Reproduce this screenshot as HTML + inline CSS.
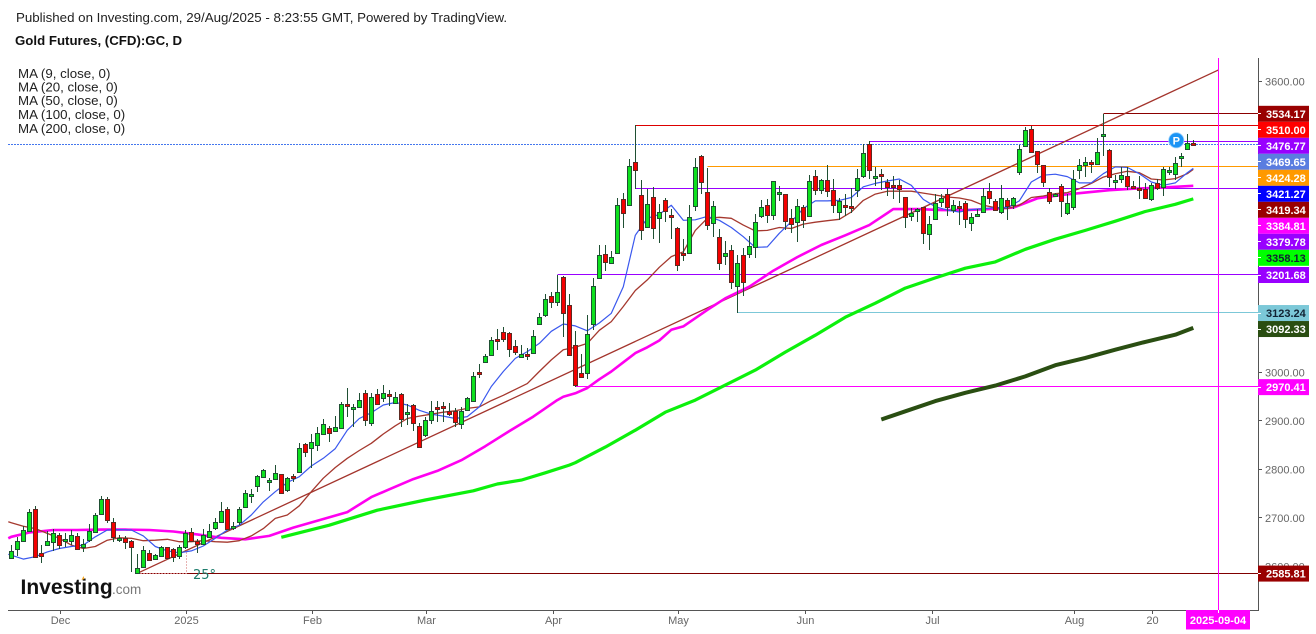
<!DOCTYPE html>
<html lang="en">
<head>
<meta charset="utf-8">
<title>Gold Futures (CFD):GC, D</title>
<style>
html,body{margin:0;padding:0;background:#fff;width:1316px;height:634px;overflow:hidden}
svg{display:block;font-family:"Liberation Sans",Arial,sans-serif}
</style>
</head>
<body>
<svg id="chart" width="1316" height="634" viewBox="0 0 1316 634">
  <rect width="1316" height="634" fill="#fff"/>
  <text x="16" y="22" font-size="13.32" fill="#222">Published on Investing.com, 29/Aug/2025 - 8:23:55 GMT, Powered by TradingView.</text>
  <text x="15" y="45" font-size="13.25" font-weight="bold" fill="#111">Gold Futures, (CFD):GC, D</text>
  <g font-size="13.3" fill="#222">
    <text x="18" y="78">MA (9, close, 0)</text>
    <text x="18" y="91.5">MA (20, close, 0)</text>
    <text x="18" y="105">MA (50, close, 0)</text>
    <text x="18" y="119">MA (100, close, 0)</text>
    <text x="18" y="133">MA (200, close, 0)</text>
  </g>
  <g id="levels"></g>
  <g id="drawings"></g>
  <g id="averages"></g>
  <g id="candles"></g>
  <g>
    <circle cx="1176.3" cy="140.3" r="7.6" fill="#1b94f5" stroke="#9fd3fb" stroke-width="0.8"/>
    <text x="1176.3" y="144.4" font-size="11" font-weight="bold" fill="#fff" text-anchor="middle">P</text>
  </g>
  <g>
    <text x="20.5" y="594" font-size="21" font-weight="bold" fill="#111">Investing</text>
    <text x="112" y="594" font-size="13.5" fill="#777">.com</text>
    <path d="M81.5 580 l2 -4 l1 3 z" fill="#f5a623"/>
  </g>
  <g id="axes"></g>
</svg>
<script>
// ---------- chart data ----------
const opens = [2617,2635,2653,2672,2718,2627,2645,2650,2664,2652,2652,2662,2641,2654,2670,2709,2738,2691,2654,2658,2652,2586,2598,2627,2616,2622,2639,2635,2621,2641,2670,2652,2647,2661,2680,2692,2718,2680,2692,2722,2746,2765,2784,2777,2780,2790,2757,2786,2795,2852,2845,2850,2874,2885,2880,2885,2936,2926,2928,2957,2895,2955,2948,2955,2938,2955,2916,2932,2889,2872,2903,2929,2930,2920,2920,2893,2922,2942,3002,3021,3037,3069,3084,3081,3054,3031,3039,3041,3099,3118,3158,3146,3197,3139,3056,2999,2999,3100,3194,3245,3225,3247,3357,3346,3435,3367,3301,3361,3318,3355,3324,3299,3247,3247,3344,3447,3373,3309,3280,3241,3253,3179,3243,3245,3259,3322,3346,3324,3369,3369,3318,3311,3342,3322,3406,3377,3398,3377,3332,3346,3344,3377,3406,3472,3404,3409,3392,3387,3386,3361,3322,3335,3341,3285,3316,3351,3369,3336,3344,3349,3309,3322,3332,3375,3353,3330,3355,3346,3414,3468,3503,3456,3429,3373,3365,3384,3328,3342,3417,3429,3435,3431,3487,3458,3394,3400,3406,3384,3381,3378,3357,3391,3383,3415,3410,3443,3460,3474];
const highs = [2644,2661,2683,2718,2724,2644,2672,2678,2668,2668,2675,2668,2656,2687,2711,2745,2744,2700,2665,2663,2654,2625,2642,2634,2625,2642,2641,2637,2644,2675,2680,2656,2678,2687,2699,2733,2723,2692,2723,2757,2759,2788,2801,2782,2809,2790,2784,2790,2854,2854,2873,2887,2905,2889,2910,2939,2969,2936,2957,2964,2958,2965,2974,2964,2960,2957,2936,2935,2896,2909,2941,2941,2940,2938,2926,2928,2949,3002,3017,3039,3074,3089,3093,3084,3066,3057,3050,3087,3123,3162,3167,3202,3198,3162,3086,3038,3119,3195,3263,3263,3250,3359,3371,3441,3510,3397,3378,3383,3348,3359,3338,3300,3276,3346,3443,3448,3422,3353,3295,3271,3263,3243,3256,3281,3327,3355,3357,3395,3384,3369,3337,3357,3345,3408,3417,3399,3428,3399,3360,3369,3381,3419,3471,3477,3424,3419,3400,3405,3397,3362,3340,3340,3342,3322,3369,3369,3379,3355,3354,3354,3328,3338,3381,3390,3358,3386,3359,3361,3469,3507,3509,3457,3429,3381,3371,3388,3369,3417,3441,3445,3439,3483,3534,3460,3407,3423,3423,3395,3405,3390,3390,3400,3423,3423,3445,3453,3491,3479];
const lows = [2615,2621,2653,2671,2617,2606,2645,2632,2635,2641,2644,2634,2630,2651,2668,2706,2690,2651,2651,2636,2588,2586,2596,2612,2613,2620,2615,2610,2615,2636,2651,2627,2644,2660,2675,2689,2675,2675,2685,2720,2730,2754,2782,2756,2778,2749,2754,2775,2795,2826,2804,2839,2872,2857,2878,2883,2909,2888,2926,2890,2890,2935,2940,2931,2936,2887,2892,2880,2846,2867,2894,2898,2898,2910,2887,2884,2920,2941,2989,3019,3036,3046,3063,3032,3037,3029,3026,3039,3098,3115,3132,3137,3074,3036,2970,2988,2986,3088,3194,3209,3223,3247,3299,3345,3379,3274,3299,3276,3267,3311,3276,3210,3230,3245,3333,3369,3293,3280,3212,3221,3172,3123,3158,3237,3236,3318,3309,3314,3354,3293,3288,3269,3297,3320,3366,3368,3362,3329,3315,3322,3328,3361,3402,3400,3384,3377,3364,3357,3350,3299,3313,3311,3266,3252,3314,3342,3322,3328,3304,3297,3292,3320,3328,3348,3335,3326,3314,3338,3407,3467,3452,3412,3383,3347,3362,3321,3324,3335,3400,3403,3412,3430,3447,3383,3379,3390,3376,3379,3357,3357,3354,3377,3364,3407,3397,3424,3459,3467];
const closes = [2632,2652,2675,2712,2619,2621,2652,2668,2645,2656,2664,2635,2647,2672,2705,2740,2695,2661,2658,2650,2641,2596,2633,2614,2623,2639,2618,2619,2641,2668,2652,2647,2665,2672,2691,2715,2678,2683,2718,2751,2749,2786,2798,2778,2792,2752,2782,2782,2845,2835,2857,2876,2893,2876,2887,2934,2932,2928,2944,2901,2949,2936,2957,2952,2949,2905,2918,2895,2847,2901,2920,2925,2926,2914,2898,2920,2947,2992,2999,3033,3068,3067,3070,3048,3043,3039,3037,3076,3114,3151,3146,3166,3122,3036,2974,2990,3079,3178,3243,3227,3238,3346,3328,3425,3418,3293,3348,3298,3331,3334,3320,3222,3243,3321,3423,3392,3305,3344,3226,3247,3187,3226,3187,3261,3311,3342,3324,3394,3373,3313,3307,3344,3315,3395,3377,3398,3375,3346,3354,3342,3342,3402,3452,3417,3406,3407,3383,3385,3379,3320,3328,3337,3287,3307,3349,3359,3342,3346,3342,3316,3320,3326,3363,3359,3336,3359,3344,3359,3462,3501,3454,3431,3392,3353,3368,3353,3349,3400,3427,3435,3433,3454,3491,3404,3398,3408,3384,3380,3377,3359,3387,3381,3419,3417,3433,3447,3474,3471];

const ma9Days = [0.5,1,3,5,7,9,11,13,15,17,19,21,23,25,27,29,31,33,35,37,39,41,43,45,47,49,51,53,55,57,59,61,63,65,67,69,71,73,75,77,79,81,83,85,87,89,91,93,95,97,99,101,103,105,107,109,111,113,115,117,119,121,123,125,127,129,131,133,135,137,139,141,143,145,147,149,151,153,155,157,159,161,163,165,167,169,171,173,175,177,179,181,183,185,187,189,191,193,195,197,198];
const ma9Values = [2625,2623,2615,2620,2630,2637,2641,2644,2661,2675,2676,2675,2663,2641,2632,2628,2632,2642,2658,2675,2685,2706,2733,2754,2773,2785,2807,2823,2843,2881,2905,2917,2933,2938,2933,2922,2914,2910,2905,2909,2929,2971,3002,3029,3043,3060,3085,3100,3096,3086,3102,3122,3177,3283,3318,3326,3345,3314,3315,3322,3314,3299,3280,3258,3259,3287,3311,3338,3354,3354,3355,3361,3383,3390,3395,3399,3386,3357,3342,3335,3331,3336,3338,3340,3340,3354,3393,3407,3409,3404,3391,3391,3410,3424,3423,3410,3393,3386,3391,3412,3421];
const ma20Days = [0.5,1,3,5,7,9,11,13,15,17,19,21,23,25,27,29,31,33,35,37,39,41,43,45,47,49,51,53,55,57,59,61,63,65,67,69,71,73,75,77,79,81,83,85,87,89,91,93,95,97,99,101,103,105,107,109,111,113,115,117,119,121,123,125,127,129,131,133,135,137,139,141,143,145,147,149,151,153,155,157,159,161,163,165,167,169,171,173,175,177,179,181,183,185,187,189,191,193,195,197,198];
const ma20Values = [2692,2690,2683,2678,2668,2658,2644,2637,2641,2654,2659,2658,2653,2654,2656,2651,2651,2653,2651,2650,2653,2663,2678,2699,2706,2725,2754,2782,2804,2823,2839,2854,2873,2890,2905,2910,2914,2918,2921,2926,2929,2942,2953,2965,2977,3002,3026,3047,3052,3060,3087,3105,3136,3169,3191,3217,3239,3249,3293,3318,3320,3318,3304,3292,3293,3299,3297,3306,3310,3313,3316,3331,3355,3368,3374,3374,3374,3370,3366,3362,3360,3355,3345,3340,3338,3345,3361,3364,3369,3371,3379,3390,3403,3410,3415,3412,3399,3397,3400,3410,3419];
const ma50Days = [0.5,1,4,8,12,16,20,24,28,32,36,40,44,48,52,57,61,64,68,72,76,80,84,88,92,93,95,97,99,101,103,105,107,109,111,113,115,117,120,124,128,132,136,140,144,148,152,156,160,164,168,172,176,180,184,188,192,198];
const ma50Values = [2658,2661,2670,2675,2675,2676,2676,2675,2672,2666,2659,2656,2663,2680,2694,2712,2743,2759,2780,2797,2819,2848,2879,2909,2943,2950,2957,2968,2986,3002,3021,3040,3052,3066,3088,3095,3112,3129,3153,3177,3210,3238,3263,3283,3304,3337,3337,3335,3335,3337,3340,3359,3366,3371,3376,3379,3381,3385];
const ma100Days = [46,54,62,70,78,82,86,90,94,95,100,105,110,115,120,125,130,135,140,145,150,155,160,165,170,175,180,185,190,195,198];
const ma100Values = [2660,2685,2716,2737,2756,2770,2778,2793,2809,2814,2846,2881,2918,2943,2974,3005,3042,3077,3114,3143,3174,3195,3215,3228,3254,3275,3293,3312,3332,3347,3358];
const ma200Days = [146,150,155,160,165,170,175,180,185,190,195,198];
const ma200Values = [2903,2920,2941,2958,2973,2992,3015,3030,3047,3063,3078,3092];

const levelPrices = [3534.17,3510.00,3476.77,3469.65,3424.28,3379.78,3201.68,3123.24,2970.41,2585.81];
const levelStartDays = [183,105,144,-1,117,105,92,122,95,22];
const tagValues = [3534.17,3510.00,3476.77,3469.65,3424.28,3421.27,3419.34,3384.81,3379.78,3358.13,3201.68,3123.24,3092.33,2970.41,2585.81];
const priceTicks = [3600,3500,3400,3300,3200,3100,3000,2900,2800,2700,2600];
const timeLabels = ['Dec','2025','Feb','Mar','Apr','May','Jun','Jul','Aug','20'];
const timeDays = [9,30,51,70,91.2,112,133.2,154.3,178,191];
const cursorDay = 202.2;
const cursorLabel = '2025-09-04';
const trendStartPrice = 2585.81;
const trendStartDay = 22;
const trendEndPrice = 3624;
const trendEndDay = 202.2;

// ---------- styles (kept apart from data) ----------
const levelColors = ['#8b0000','#dd0000','#9900ff','#4477ee','#ff9900','#9900ff','#9900ff','#7cc8d8','#ff00ff','#800000'];
const tagColors = ['#990000','#ff0000','#9900ff','#5a7de0','#ff9900','#0000ff','#990000','#ff00ff','#9900ff','#00ff00','#9900ff','#7cc8d8','#2a4e12','#ff00ff','#990000'];
const tagTextColors = ['#fff','#fff','#fff','#fff','#fff','#fff','#fff','#fff','#fff','#123','#fff','#123','#fff','#fff','#fff'];

// ---------- axis functions ----------
function xScale(day){ return 5.3 + 6 * day; }
function yScale(price){ return 81.6 + (3600 - price) * 0.4848; }
const NS = 'http://www.w3.org/2000/svg';
function make(tag, attrs, parent, text){
  const node = document.createElementNS(NS, tag);
  for (const k in attrs) node.setAttribute(k, attrs[k]);
  if (text !== undefined) node.textContent = text;
  parent.appendChild(node);
  return node;
}
function crisp(v){ return Math.round(v - 0.5) + 0.5; }

const AXIS_RIGHT = 1258, AXIS_BOTTOM = 610, AXIS_TOP = 58, AXIS_LEFT = 8;

// ---------- levels ----------
const levelsG = document.getElementById('levels');
levelPrices.forEach(function(p, i){
  const y = crisp(yScale(p));
  const x0 = levelStartDays[i] < 0 ? AXIS_LEFT : crisp(xScale(levelStartDays[i]));
  const line = make('line', {x1:x0, x2:AXIS_RIGHT, y1:y, y2:y, stroke:levelColors[i], 'stroke-width':1}, levelsG);
  
  
  if (levelStartDays[i] < 0) line.setAttribute('stroke-dasharray', '2 1');
});

// ---------- trend line + angle ----------
const drawG = document.getElementById('drawings');
const tx0 = xScale(trendStartDay), ty0 = yScale(trendStartPrice);
const tx1 = xScale(trendEndDay), ty1 = yScale(trendEndPrice);
const trend = make('line', {x1:tx0, y1:ty0, x2:tx1, y2:ty1, stroke:'#a3342c', 'stroke-width':1.3}, drawG);


const angleX = tx0 + 49;
const angleY = ty0 - 49 * (ty0 - ty1) / (tx1 - tx0);
const anglePath = make('path', {d:'M'+tx0+' '+crisp(ty0)+' H'+crisp(angleX)+' V'+angleY, fill:'none', stroke:'#e09a9a', 'stroke-width':1, 'stroke-dasharray':'1.5 1.5'}, drawG);


const angleText = make('text', {x:193, y:579, 'font-size':13, fill:'#1e7d6d', style:'font-family:"DejaVu Sans",sans-serif'}, drawG, '25°');



// ---------- moving averages ----------
const avgG = document.getElementById('averages');
function drawAverage(days, values, name, color, width){
  const pts = days.map(function(d, i){ return xScale(d).toFixed(1) + ',' + yScale(values[i]).toFixed(1); }).join(' ');
  const line = make('polyline', {points:pts, fill:'none', stroke:color, 'stroke-width':width, 'stroke-linejoin':'round'}, avgG);
  
  
}
drawAverage(ma200Days, ma200Values, 'ma-200-line', '#2a4e12', 4);
drawAverage(ma100Days, ma100Values, 'ma-100-line', '#0cf00c', 3.2);
drawAverage(ma50Days, ma50Values, 'ma-50-line', '#ff00f0', 2.6);
drawAverage(ma20Days, ma20Values, 'ma-20-line', '#a5382e', 1.3);
drawAverage(ma9Days, ma9Values, 'ma-9-line', '#3a58ee', 1.2);

// ---------- candles ----------
const candleG = document.getElementById('candles');
opens.forEach(function(open, i){
  const cx = crisp(xScale(i + 1));
  const close = closes[i];
  const up = close >= open;
  const g = make('g', {}, candleG);
  
  
  const wick = make('line', {x1:cx, x2:cx, y1:Math.round(yScale(highs[i])), y2:Math.round(yScale(lows[i])), stroke:'#1f4f33', 'stroke-width':1, 'shape-rendering':'crispEdges'}, g);
  
  
  let top = Math.round(yScale(Math.max(open, close)));
  let bot = Math.round(yScale(Math.min(open, close)));
  if (bot - top < 2) bot = top + 2;
  const body = make('rect', {x:cx - 2, y:top + 0.5, width:4, height:bot - top, fill:up ? '#0ee11e' : '#f40000', stroke:up ? '#1f4f33' : '#5d2a22', 'stroke-width':1, 'shape-rendering':'crispEdges'}, g);
  
  
});

// ---------- axes ----------
const axesG = document.getElementById('axes');
const cx0 = crisp(xScale(cursorDay));
const cursorLine = make('line', {x1:cx0, x2:cx0, y1:AXIS_TOP, y2:AXIS_BOTTOM, stroke:'#ff00ff', 'stroke-width':1}, axesG);



const rightAxis = make('line', {x1:AXIS_RIGHT + 0.5, x2:AXIS_RIGHT + 0.5, y1:AXIS_TOP, y2:AXIS_BOTTOM + 1, stroke:'#555', 'stroke-width':1}, axesG);


const bottomAxis = make('line', {x1:AXIS_LEFT, x2:AXIS_RIGHT + 1, y1:AXIS_BOTTOM + 0.5, y2:AXIS_BOTTOM + 0.5, stroke:'#555', 'stroke-width':1}, axesG);



priceTicks.forEach(function(p){
  const y = yScale(p);
  const tick = make('line', {x1:AXIS_RIGHT, x2:AXIS_RIGHT + 4, y1:crisp(y), y2:crisp(y), stroke:'#555', 'stroke-width':1}, axesG);
  
  
  const label = make('text', {x:1265, y:y + 4, 'font-size':11, fill:'#666'}, axesG, p.toFixed(2));
  
  
});

timeLabels.forEach(function(t, i){
  const x = crisp(xScale(timeDays[i]) + 1);
  const tick = make('line', {x1:x, x2:x, y1:AXIS_BOTTOM, y2:AXIS_BOTTOM + 4, stroke:'#555', 'stroke-width':1}, axesG);
  
  
  const label = make('text', {x:x, y:624, 'font-size':11, fill:'#666', 'text-anchor':'middle'}, axesG, t);
  
  
});

const dateBox = make('rect', {x:cx0 - 32.5, y:AXIS_BOTTOM, width:64, height:19.5, fill:'#ff00ff'}, axesG);


const dateText = make('text', {x:cx0 - 0.5, y:624, 'font-size':11, 'font-weight':'bold', fill:'#fff', 'text-anchor':'middle'}, axesG, cursorLabel);


const dateTick = make('line', {x1:cx0, x2:cx0, y1:AXIS_BOTTOM, y2:AXIS_BOTTOM + 3, stroke:'#fff', 'stroke-width':1}, axesG);



// price tags stack downward so they never overlap
let lastCentre = -100;
tagValues.forEach(function(v, i){
  const centre = Math.max(yScale(v) + 0.3, lastCentre + 16);
  lastCentre = centre;
  const g = make('g', {}, axesG);
  
  
  const box = make('rect', {x:AXIS_RIGHT, y:centre - 8, width:51, height:16, fill:tagColors[i]}, g);
  
  
  const notch = make('line', {x1:AXIS_RIGHT, x2:AXIS_RIGHT + 3, y1:crisp(centre), y2:crisp(centre), stroke:'#fff', 'stroke-width':1}, g);
  
  
  const label = make('text', {x:1266, y:centre + 4, 'font-size':11, 'font-weight':'bold', fill:tagTextColors[i]}, g, v.toFixed(2));
  
  
});
</script>
</body>
</html>
